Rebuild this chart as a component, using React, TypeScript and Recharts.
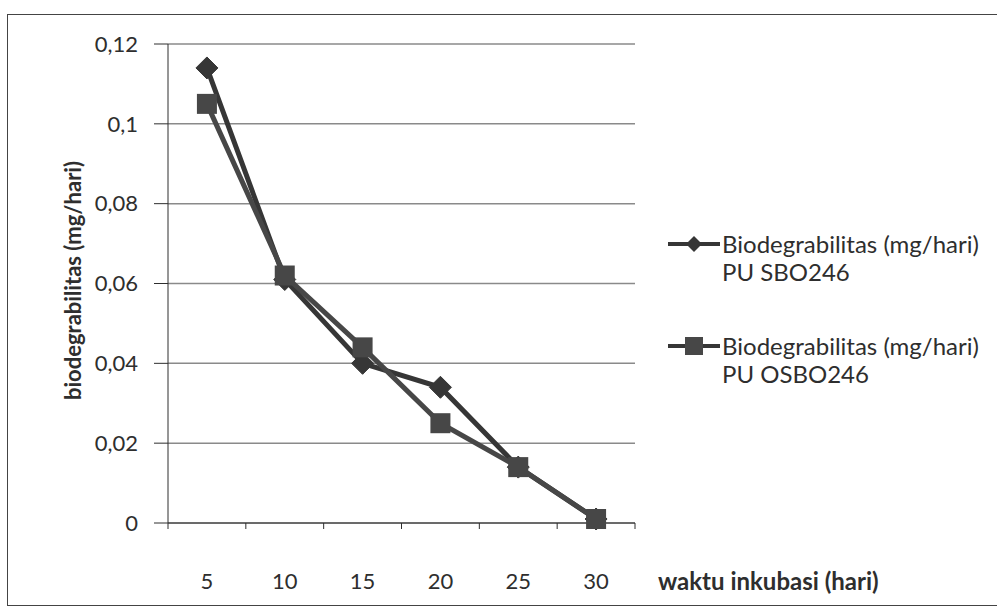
import { LineChart, Line, XAxis, YAxis, CartesianGrid, Legend } from "recharts";

const days = ["5", "10", "15", "20", "25", "30"];
const sbo246 = [0.114, 0.061, 0.040, 0.034, 0.014, 0.001];
const osbo246 = [0.105, 0.062, 0.044, 0.025, 0.014, 0.001];
const yTicks = [0, 0.02, 0.04, 0.06, 0.08, 0.1, 0.12];

const seriesNames = {
  sbo: ["Biodegrabilitas (mg/hari)", "PU SBO246"],
  osbo: ["Biodegrabilitas (mg/hari)", "PU OSBO246"],
};

const data = days.map((d, i) => ({ day: d, sbo: sbo246[i], osbo: osbo246[i] }));

const font = "Lato, 'Open Sans', sans-serif";
const ink = "#2e2e2e";
const lineColor = "#363636";
const squareColor = "#474747";

const Diamond = (props: any) => {
  const { cx, cy } = props;
  if (cx == null || cy == null) return null;
  const r = 11;
  return (
    <path
      d={`M${cx},${cy - r} L${cx + r},${cy} L${cx},${cy + r} L${cx - r},${cy} Z`}
      fill={lineColor}
      stroke={lineColor}
    />
  );
};

const Square = (props: any) => {
  const { cx, cy } = props;
  if (cx == null || cy == null) return null;
  const r = 10;
  return <rect x={cx - r} y={cy - r} width={r * 2} height={r * 2} fill={squareColor} />;
};

// Excel style: tick marks sit between the categories
const XTick = (props: any) => {
  const { x, y, payload, index, visibleTicksCount } = props;
  const half = payload.offset ?? 0;
  const last = index === visibleTicksCount - 1;
  return (
    <g>
      <line x1={x - half} y1={y - 8} x2={x - half} y2={y - 2} stroke={ink} />
      {last && <line x1={x + half} y1={y - 8} x2={x + half} y2={y - 2} stroke={ink} />}
      <text x={x} y={y + 58} textAnchor="middle" fontSize={22} fill={ink} fontFamily={font}>
        {payload.value}
      </text>
    </g>
  );
};

const LegendBox = () => {
  const rows = [
    { key: "sbo", icon: "diamond" },
    { key: "osbo", icon: "square" },
  ];
  return (
    <div style={{ fontFamily: font, fontSize: 24, color: ink, width: 330 }}>
      {rows.map((r, i) => (
        <div key={r.key} style={{ display: "flex", marginBottom: i === 0 ? 46 : 0 }}>
          <svg width={56} height={28} style={{ flex: "none" }}>
            <line x1={2} y1={14} x2={54} y2={14} stroke={lineColor} strokeWidth={4} />
            {r.icon === "diamond" ? (
              <path d="M28,6 L36,14 L28,22 L20,14 Z" fill={lineColor} />
            ) : (
              <rect x={19} y={5} width={18} height={18} fill={squareColor} />
            )}
          </svg>
          <div style={{ lineHeight: "28px", whiteSpace: "nowrap" }}>
            <div>{seriesNames[r.key as "sbo" | "osbo"][0]}</div>
            <div>{seriesNames[r.key as "sbo" | "osbo"][1]}</div>
          </div>
        </div>
      ))}
    </div>
  );
};

export default function App() {
  return (
    <div
      style={{
        position: "absolute",
        left: 0,
        top: 0,
        width: 997,
        height: 612,
        background: "#fff",
      }}
    >
      <div
        style={{
          position: "absolute",
          left: 7,
          top: 14,
          width: 990,
          height: 590,
          border: "1px solid #444",
          borderRight: "none",
        }}
      />
      <LineChart
        width={997}
        height={612}
        data={data}
        margin={{ top: 44, right: 32, bottom: 0, left: 0 }}
        style={{ position: "absolute", left: 0, top: 0 }}
      >
        <CartesianGrid vertical={false} stroke="#8a8a8a" strokeWidth={1.5} />
        <XAxis
          dataKey="day"
          scale="band"
          height={89}
          stroke={ink}
          tickLine={false}
          tick={<XTick />}
          interval={0}
          label={{
            content: (p: any) => {
              const vb = p.viewBox;
              return (
                <text
                  x={vb.x + vb.width + 23}
                  y={vb.y + 67}
                  style={{ fontSize: 24, fontWeight: "bold", fontFamily: font }}
                  fill={ink}
                >
                  waktu inkubasi (hari)
                </text>
              );
            },
          }}
        />
        <YAxis
          width={168}
          domain={[0, 0.12]}
          ticks={yTicks}
          stroke={ink}
          tickSize={14}
          tickFormatter={(v: number) => String(v).replace(".", ",")}
          tick={{ fontSize: 22, fill: ink, fontFamily: font, dx: -14 }}
          label={{
            content: (p: any) => {
              const vb = p.viewBox;
              const cx = vb.x + 72;
              const cy = vb.y + vb.height / 2 - 3;
              return (
                <text
                  x={cx}
                  y={cy}
                  transform={`rotate(-90 ${cx} ${cy})`}
                  textAnchor="middle"
                  dominantBaseline="central"
                  style={{ fontSize: 22, fontWeight: "bold", fontFamily: font }}
                  fill={ink}
                >
                  biodegrabilitas (mg/hari)
                </text>
              );
            },
          }}
        />
        <Legend
          layout="vertical"
          align="right"
          verticalAlign="middle"
          content={<LegendBox />}
          wrapperStyle={{ left: 666, top: 230, width: 330 }}
        />
        <Line
          dataKey="sbo"
          stroke={lineColor}
          strokeWidth={5}
          dot={<Diamond />}
          isAnimationActive={false}
        />
        <Line
          dataKey="osbo"
          stroke={squareColor}
          strokeWidth={5}
          dot={<Square />}
          isAnimationActive={false}
        />
      </LineChart>
    </div>
  );
}
